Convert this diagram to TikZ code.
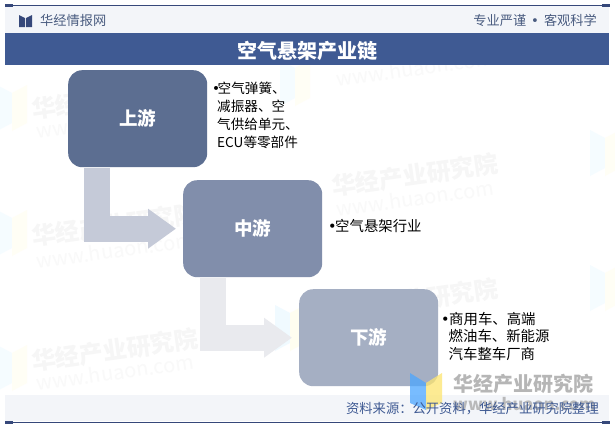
\documentclass[tikz,border=0pt]{standalone}
\usepackage{fontspec}
\setmainfont{Noto Sans CJK SC}
\newfontfamily\dotfont{DejaVu Sans}
\usetikzlibrary{arrows.meta}
\definecolor{navy}{HTML}{3F5A93}
\definecolor{band}{HTML}{F3F5F9}
\definecolor{rule}{HTML}{36487A}
\definecolor{headtxt}{HTML}{4A5C80}
\tikzset{
 x=1pt,y=-1pt,
 stage/.style={rounded corners=14pt,minimum width=139pt,minimum height=97pt,inner sep=0pt,text=white,font=\fontsize{18.5}{20}\selectfont\bfseries},
 bent/.style={line width=26pt,-{Triangle[length=28pt,width=38pt]}},
 desc/.style={anchor=north west,align=left,inner sep=0pt,text=black,font=\fontsize{13.6}{17.8}\selectfont},
 descb/.style={desc,font=\fontsize{14.4}{17.4}\selectfont},
 wmark/.style={rotate=8,text=black!3.5,font=\fontsize{24}{26}\selectfont\bfseries},
 wurl/.style={rotate=8,text=black!2.5,font=\fontsize{20}{22}\selectfont},
 headtext/.style={text=headtxt,font=\fontsize{13.2}{15}\selectfont},
}
\newcommand{\pagelogo}[3]{%
 \fill[blue!30!cyan!#3!white] (#1,#2) -- (#1+15,#2+8) -- (#1+15,#2+38) -- (#1,#2+46) -- cycle;
 \fill[yellow!#3!white] (#1+15,#2+8) -- (#1+30,#2) -- (#1+30,#2+38) -- (#1+15,#2+46) -- cycle;
}
\newcommand{\bul}[1]{\makebox[#1][l]{\dotfont\char"2022}}
\begin{document}
\begin{tikzpicture}
\useasboundingbox (0,0) rectangle (615,429);
\fill[white] (0,0) rectangle (615,429);
% pale tiled watermarks
\pagelogo{-3}{85}{4}
\pagelogo{-3}{210}{4}
\pagelogo{-3}{345}{4}
\pagelogo{280}{60}{4}
\pagelogo{275}{305}{6}
\pagelogo{590}{130}{4}
\pagelogo{590}{265}{4}
\node[wmark] (w1) at (115,98) {华经产业研究院};
\node[wurl] (u1) at (115,120) {www.huaon.com};
\node[wmark] (w2) at (115,225) {华经产业研究院};
\node[wurl] (u2) at (115,250) {www.huaon.com};
\node[wmark] (w3) at (115,350) {华经产业研究院};
\node[wurl] (u3) at (115,372) {www.huaon.com};
\node[wurl] (u4) at (415,68) {www.huaon.com};
\node[wmark] (w5) at (415,175) {华经产业研究院};
\node[wurl] (u5) at (415,198) {www.huaon.com};
\node[wmark] (w6) at (415,300) {华经产业研究院};
% header and footer bands
\fill[band] (5,5) rectangle (609,33);
\fill[navy] (5,33) rectangle (609,65);
\fill[band] (5,395) rectangle (609,421);
\draw[rule,line width=0.8pt] (5,5.5) -- (610,5.5);
\draw[rule,line width=0.8pt] (5,422.5) -- (610,422.5);
\fill[rule] (5,4) rectangle (13,7);
\fill[rule] (602,4) rectangle (610,7);
\fill[rule] (5,421) rectangle (13,424);
\fill[rule] (602,421) rectangle (610,424);
% header logo
\fill[rule] (19,15) -- (25,18) -- (25,27) -- (19,27) -- cycle;
\fill[rule] (26,18) -- (32,15) -- (32,27) -- (26,27) -- cycle;
\node[headtext,anchor=west,inner sep=0pt] (brand) at (40,20) {华经情报网};
\node[headtext,anchor=east,inner sep=0pt] (motto) at (597,20) {专业严谨\hspace{5pt}{\dotfont\char"2022}\hspace{5pt}客观科学};
\node[text=white,font=\fontsize{20}{22}\selectfont\bfseries,inner sep=0pt] (title) at (307.5,51) {空气悬架产业链};
% stages
\node[stage,fill={rgb,255:red,92;green,110;blue,145},anchor=north west] (up) at (68,70) {上游};
\node[stage,fill={rgb,255:red,129;green,142;blue,171},anchor=north west] (mid) at (183,180) {中游};
\node[stage,fill={rgb,255:red,165;green,175;blue,195},anchor=north west] (down) at (299,289) {下游};
% bent arrows
\draw[bent,draw={rgb,255:red,197;green,202;blue,216}] ([xshift=29pt,yshift=-1pt]up.south west) |- ([xshift=-7pt]mid.west);
\draw[bent,draw={rgb,255:red,233;green,234;blue,238}] ([xshift=30pt,yshift=-1pt]mid.south west) |- ([xshift=-7pt]down.west);
% descriptions
\node[desc] (d1) at (212,82) {\bul{5.5pt}空气弹簧、\\\hspace*{5pt}减振器、空\\\hspace*{5pt}气供给单元、\\\hspace*{5pt}ECU等零部件};
\node[descb] (d2) at (328,219) {\bul{7pt}空气悬架行业};
\node[descb] (d3) at (441,312) {\bul{8pt}商用车、高端\\\hspace*{7.5pt}燃油车、新能源\\\hspace*{7.5pt}汽车整车厂商};
% foreground watermark
\begin{scope}[opacity=.75]
\fill[blue!50!cyan!70!white] (410,373) -- (426,383) -- (426,410) -- (410,403) -- cycle;
\fill[yellow!70!orange!55!white] (426,383) -- (442,373) -- (442,403) -- (426,410) -- cycle;
\node[text=black!38,font=\fontsize{20}{22}\selectfont\bfseries,anchor=west,inner sep=0pt] (wm) at (453,384) {华经产业研究院};
\node[text=black!35,font=\fontsize{16.5}{18}\selectfont\bfseries,anchor=west,inner sep=0pt] (wmu) at (453,404) {www.huaon.com};
\end{scope}
\node[text=navy,font=\fontsize{13.3}{15}\selectfont,anchor=east,inner sep=0pt] (src) at (599,409) {资料来源：公开资料，华经产业研究院整理};
\end{tikzpicture}
\end{document}
